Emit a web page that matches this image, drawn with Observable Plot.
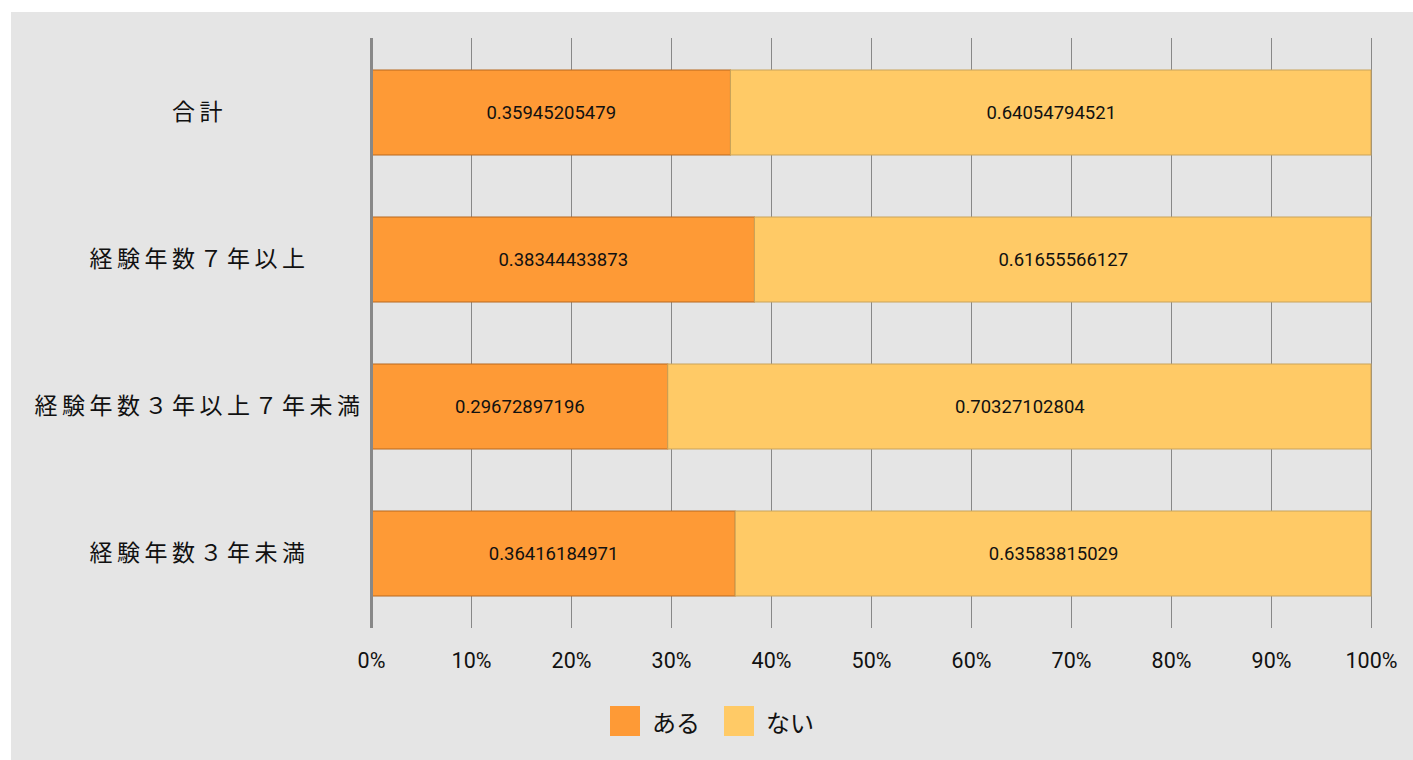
<!DOCTYPE html>
<html>
<head>
<meta charset="utf-8">
<script src="https://cdn.jsdelivr.net/npm/d3@7"></script>
<script src="https://cdn.jsdelivr.net/npm/@observablehq/plot@0.6"></script>
<style>
  body { margin: 0; background: #ffffff; font-family: "Noto Sans CJK JP", "Noto Sans", sans-serif; }
  #panel { position: absolute; left: 11px; top: 12px; width: 1402px; height: 748px; background: #e5e5e5; }
  #legend { display: flex; justify-content: center; align-items: center; margin-top: 34px; height: 30px; font-size: 24px; color: #111; }
  .item { display: flex; align-items: center; margin: 0 12px; }
  .sw { width: 30px; height: 30px; margin-right: 12px; }
</style>
</head>
<body>
<div id="panel"><div id="chart"></div><div id="legend"></div></div>
<script>
const categories = ["合計", "経験年数７年以上", "経験年数３年以上７年未満", "経験年数３年未満"];
const series = ["ある", "ない"];
const aruValues = ["0.35945205479", "0.38344433873", "0.29672897196", "0.36416184971"];
const naiValues = ["0.64054794521", "0.61655566127", "0.70327102804", "0.63583815029"];
const xTicks = [0, 0.1, 0.2, 0.3, 0.4, 0.5, 0.6, 0.7, 0.8, 0.9, 1];
const fills = ["#fe9a36", "#ffca66"];
const strokes = ["#b8691e", "#c9a35a"];

const data = [];
categories.forEach((c, i) => {
  data.push({cat: c, series: series[0], value: +aruValues[i], label: aruValues[i]});
  data.push({cat: c, series: series[1], value: +naiValues[i], label: naiValues[i]});
});

const chart = Plot.plot({
  width: 1402,
  height: 660,
  marginLeft: 360,
  marginRight: 42,
  marginTop: 26,
  marginBottom: 44,
  style: {background: "transparent", fontFamily: "'Noto Sans CJK JP', sans-serif", color: "#111"},
  x: {domain: [0, 1]},
  y: {domain: categories, paddingInner: 0.424, paddingOuter: 0.212},
  color: {domain: series, range: fills},
  marks: [
    Plot.gridX(xTicks, {stroke: "#888", strokeOpacity: 1, strokeWidth: 1}),
    Plot.barX(data, Plot.stackX({x: "value", y: "cat", z: "series", fill: "series",
      stroke: d => strokes[series.indexOf(d.series)], strokeWidth: 1})),
    Plot.text(data, Plot.stackX({x: "value", y: "cat", z: "series", text: "label", fontSize: 18.5, fontFamily: "Roboto", fill: "#111"})),
    Plot.ruleX([0], {stroke: "#888", strokeWidth: 3}),
    Plot.axisX(xTicks, {tickSize: 0, tickPadding: 24, fontSize: 21.5, fontFamily: "Roboto", tickFormat: d => Math.round(d * 100) + "%", label: null}),
    Plot.axisY({tickSize: 0, tickPadding: 172, textAnchor: "middle", fontSize: 23, label: null})
  ]
});
chart.querySelectorAll("text").forEach(t => {
  if (categories.includes(t.textContent)) t.style.letterSpacing = "4.5px";
});
document.getElementById("chart").appendChild(chart);

const legend = document.getElementById("legend");
series.forEach((s, i) => {
  const item = document.createElement("div");
  item.className = "item";
  const sw = document.createElement("div");
  sw.className = "sw";
  sw.style.background = fills[i];
  const t = document.createElement("span");
  t.textContent = s;
  item.appendChild(sw);
  item.appendChild(t);
  legend.appendChild(item);
});
</script>
</body>
</html>
